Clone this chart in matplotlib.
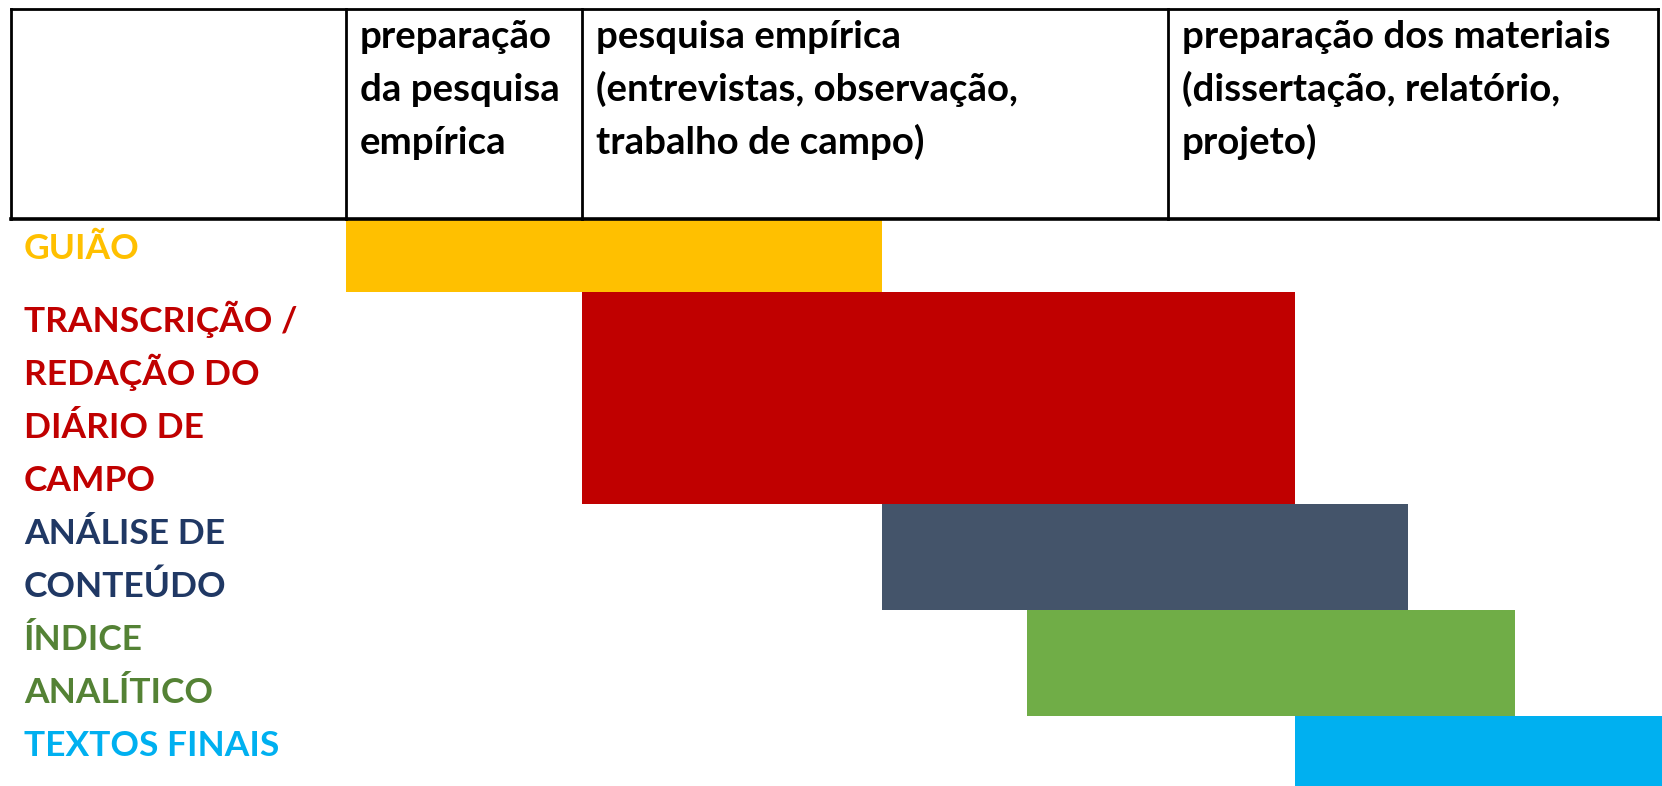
import matplotlib
matplotlib.use("Agg")
import matplotlib.pyplot as plt
from matplotlib.patches import Rectangle

# ---- data ----
phase_labels = [
    "preparação\nda pesquisa\nempírica",
    "pesquisa empírica\n(entrevistas, observação,\ntrabalho de campo)",
    "preparação dos materiais\n(dissertação, relatório,\nprojeto)",
]
phase_edges = [346, 582, 1168, 1658]          # timeline units (column boundaries)

task_labels = ["GUIÃO", "TRANSCRIÇÃO /\nREDAÇÃO DO\nDIÁRIO DE\nCAMPO",
               "ANÁLISE DE\nCONTEÚDO", "ÍNDICE\nANALÍTICO", "TEXTOS FINAIS"]
task_start = [346, 582, 882, 1027, 1295]
task_end = [882, 1295, 1408, 1515, 1680]
bar_colors = ["#FFC000", "#C00000", "#44546A", "#70AD47", "#00B0F0"]
text_colors = ["#FFC000", "#C00000", "#203864", "#548235", "#00B0F0"]

# ---- layout ----
W, H = 1662, 786
fig = plt.figure(figsize=(W / 100, H / 100), dpi=100)
ax = fig.add_axes([0, 0, 1, 1])
ax.set_xlim(0, W)
ax.set_ylim(H, 0)
ax.axis("off")

FONT = "Lato"
FS_HEAD = 27.6
FS_LAB = 25.5
LINE = 53
table_top, table_bottom, table_left = 9, 219, 11

# header table
lw = 2.0
ax.plot([table_left, phase_edges[-1]], [table_top, table_top], color="black", lw=lw, solid_capstyle="projecting")
ax.plot([table_left, phase_edges[-1]], [table_bottom, table_bottom], color="black", lw=lw + 0.6, solid_capstyle="projecting")
for x in [table_left] + phase_edges:
    ax.plot([x, x], [table_top, table_bottom], color="black", lw=lw, solid_capstyle="projecting")
for i, lab in enumerate(phase_labels):
    for j, line in enumerate(lab.split("\n")):
        ax.text(phase_edges[i] + 14, 48 + j * LINE, line, fontsize=FS_HEAD, fontfamily=FONT,
                fontweight="bold", color="black", va="baseline", ha="left")

# task rows
y = table_bottom
for lab, s, e, bc, tc in zip(task_labels, task_start, task_end, bar_colors, text_colors):
    lines = lab.split("\n")
    h = max(len(lines) * LINE, 73)
    ax.add_patch(Rectangle((s, y), e - s, h, facecolor=bc, edgecolor="none", zorder=1))
    for j, line in enumerate(lines):
        ax.text(24, y + 40 + j * LINE, line, fontsize=FS_LAB, fontfamily=FONT, fontweight="bold",
                color=tc, va="baseline", ha="left", zorder=2)
    y += h

fig.savefig("out.png", dpi=100, facecolor="white")
